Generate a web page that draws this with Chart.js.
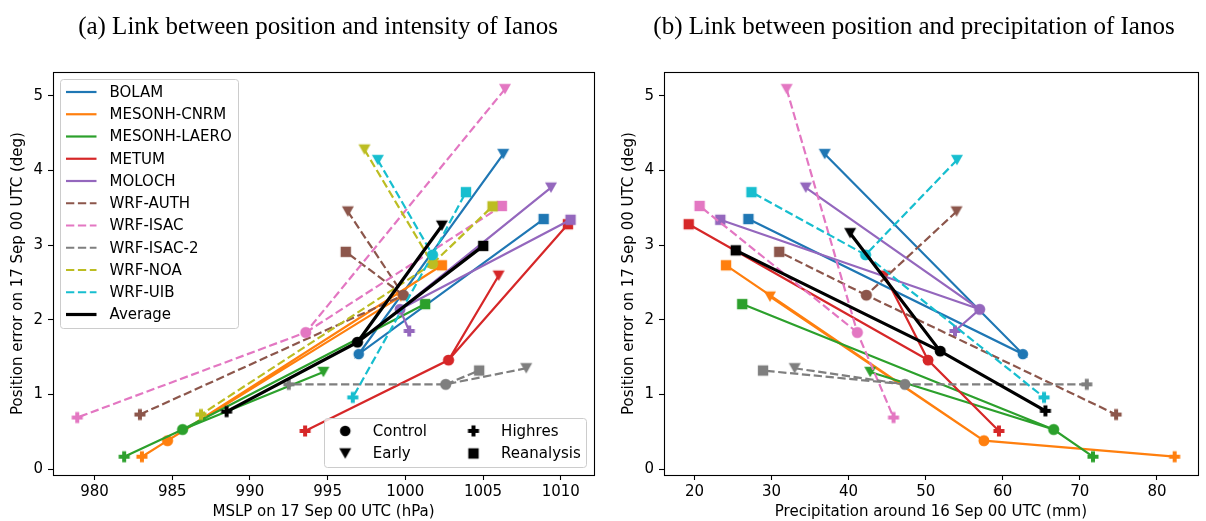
<!DOCTYPE html>
<html>
<head>
<meta charset="utf-8">
<script src="https://cdn.jsdelivr.net/npm/chart.js@4.4.0/dist/chart.umd.min.js"></script>
<style>
  body { margin: 0; background: #fff; width: 1206px; height: 521px; overflow: hidden; position: relative; }
  canvas { position: absolute; top: 0; }
  .title { position: absolute; top: 25px; font-family: "Liberation Serif", serif; font-size: 25px; line-height: 25px;
           white-space: nowrap; transform: translate(-50%, -50%); color: #000; }
</style>
</head>
<body>
<canvas id="chartA" width="603" height="521" style="left:0px"></canvas>
<canvas id="chartB" width="595" height="521" style="left:611px"></canvas>
<div class="title" style="left:318px">(a) Link between position and intensity of Ianos</div>
<div class="title" style="left:914px">(b) Link between position and precipitation of Ianos</div>
<script>
const models = ['BOLAM', 'MESONH-CNRM', 'MESONH-LAERO', 'METUM', 'MOLOCH',
                'WRF-AUTH', 'WRF-ISAC', 'WRF-ISAC-2', 'WRF-NOA', 'WRF-UIB'];
const modelColors = ['#1f77b4', '#ff7f0e', '#2ca02c', '#d62728', '#9467bd',
                     '#8c564b', '#e377c2', '#7f7f7f', '#bcbd22', '#17becf'];
const modelDashed = [false, false, false, false, false, true, true, true, true, true];
const experiments = ['Control', 'Early', 'Highres', 'Reanalysis'];

// each row: Control, Early, Highres, Reanalysis
const posError = [
  [1.54, 4.22, null, 3.35],
  [0.38, 2.31, 0.165, 2.73],
  [0.53, 1.30, 0.165, 2.21],
  [1.46, 2.59, 0.51, 3.28],
  [2.14, 3.77, 1.85, 3.34],
  [2.33, 3.45, 0.73, 2.91],
  [1.83, 5.09, 0.69, 3.525],
  [1.135, 1.35, 1.135, 1.32],
  [2.75, 4.28, 0.73, 3.52],
  [2.87, 4.14, 0.96, 3.71]
];
const mslp = [
  [997.0, 1006.3, null, 1008.9],
  [984.7, 999.7, 983.05, 1002.35],
  [985.67, 994.73, 981.91, 1001.27],
  [1002.78, 1006.0, 993.55, 1010.46],
  [999.66, 1009.37, 1000.25, 1010.63],
  [999.88, 996.3, 982.92, 996.17],
  [993.59, 1006.41, 978.89, 1006.21],
  [1002.6, 1007.78, 992.5, 1004.75],
  [1001.75, 997.37, 986.85, 1005.61],
  [1001.75, 998.23, 996.62, 1003.9]
];
const precip = [
  [62.6, 36.9, null, 27.0],
  [57.55, 29.8, 82.3, 24.1],
  [66.6, 42.8, 71.7, 26.2],
  [50.3, 44.7, 59.5, 19.26],
  [57.0, 34.44, 53.8, 23.35],
  [42.3, 54.0, 74.7, 31.0],
  [41.13, 31.96, 45.83, 20.67],
  [47.3, 33.0, 70.9, 28.9],
  [null, null, null, null],
  [42.2, 54.05, 65.35, 27.4]
];
// the average differs between panels (no WRF-NOA precipitation)
const avgPosA = [1.70, 3.26, 0.77, 2.99];
const avgMslp = [996.92, 1002.35, 988.5, 1005.01];
const avgPosB = [1.58, 3.16, 0.78, 2.93];
const avgPrecip = [51.88, 40.2, 65.53, 25.36];

const yTicks = [0, 1, 2, 3, 4, 5];
const mslpTicks = [980, 985, 990, 995, 1000, 1005, 1010];
const precipTicks = [20, 30, 40, 50, 60, 70, 80];

const FONT = '"DejaVu Sans", sans-serif';
Chart.defaults.color = '#000';
Chart.defaults.font.family = FONT;
Chart.defaults.font.size = 15;

// matplotlib-like markers: o, v, P, s
function markerImg(kind, color) {
  const c = document.createElement('canvas');
  c.width = c.height = 14;
  const g = c.getContext('2d');
  g.fillStyle = color;
  g.translate(7, 7);
  g.beginPath();
  if (kind === 0) {
    g.arc(0, 0, 5.3, 0, Math.PI * 2);
  } else if (kind === 1) {
    g.moveTo(0, 5.3); g.lineTo(-6, -5.3); g.lineTo(6, -5.3); g.closePath();
  } else if (kind === 2) {
    const a = 5.5, b = 2;
    g.moveTo(-b, -a); g.lineTo(b, -a); g.lineTo(b, -b); g.lineTo(a, -b); g.lineTo(a, b); g.lineTo(b, b);
    g.lineTo(b, a); g.lineTo(-b, a); g.lineTo(-b, b); g.lineTo(-a, b); g.lineTo(-a, -b); g.lineTo(-b, -b);
    g.closePath();
  } else {
    g.rect(-5.2, -5.2, 10.4, 10.4);
  }
  g.fill();
  return c;
}

// lines go from Control to every other experiment; a gap keeps dashes from retracing
function starPoints(xs, ys) {
  const others = [1, 2, 3].filter(k => xs[k] != null && ys[k] != null);
  const pt = k => ({ x: xs[k], y: ys[k], m: k });
  const pts = [];
  if (xs[0] == null) return pts;
  others.forEach((k, i) => {
    if (i === 0) { pts.push(pt(k)); pts.push(pt(0)); }
    else if (i === 1) { pts.push(pt(k)); }
    else { pts.push({ x: xs[0], y: null, m: 0 }); pts.push(pt(0)); pts.push(pt(k)); }
  });
  return pts;
}

function makeDataset(label, color, dashed, width, xs, ys, order) {
  const pts = starPoints(xs, ys);
  const imgs = [0, 1, 2, 3].map(k => markerImg(k, color));
  return {
    label: label,
    data: pts,
    showLine: true,
    spanGaps: false,
    borderColor: color,
    backgroundColor: color,
    borderWidth: width,
    borderDash: dashed ? [8.3, 3.6] : [],
    pointStyle: pts.map(p => imgs[p.m]),
    pointRadius: 5,
    pointHoverRadius: 5,
    tension: 0,
    order: order
  };
}

function buildDatasets(xsAll, avgX, avgY) {
  const ds = [];
  models.forEach((m, i) => {
    const d = makeDataset(m, modelColors[i], modelDashed[i], 2.2, xsAll[i], posError[i], models.length + 1 - i);
    if (d.data.length) ds.push(d);
  });
  ds.push(makeDataset('Average', '#000', false, 3.2, avgX, avgY, 0));
  return ds;
}

const framePlugin = {
  id: 'frame',
  afterDatasetsDraw(chart) {
    const { ctx, chartArea: a } = chart;
    ctx.save();
    ctx.strokeStyle = '#000';
    ctx.lineWidth = 1.1;
    ctx.strokeRect(Math.round(a.left) + 0.5, Math.round(a.top) + 0.5,
                   Math.round(a.right - a.left), Math.round(a.bottom - a.top));
    ctx.restore();
  }
};

function legendBox(ctx, x, y, w, h) {
  ctx.save();
  ctx.beginPath();
  ctx.roundRect(x, y, w, h, 3);
  ctx.fillStyle = 'rgba(255,255,255,0.8)';
  ctx.fill();
  ctx.strokeStyle = '#cccccc';
  ctx.lineWidth = 1;
  ctx.stroke();
  ctx.restore();
}

const legendPlugin = {
  id: 'insideLegends',
  afterDraw(chart, args, opts) {
    if (!opts.show) return;
    const { ctx, chartArea: a } = chart;
    ctx.save();
    ctx.font = '15px ' + FONT;
    ctx.textBaseline = 'middle';
    ctx.fillStyle = '#000';
    // series legend, upper left
    const bx = a.left + 7.5, by = a.top + 7.5;
    legendBox(ctx, bx, by, 178, 249);
    const names = models.concat(['Average']);
    names.forEach((n, i) => {
      const y = by + 12.5 + i * 22.25;
      ctx.save();
      ctx.beginPath();
      ctx.strokeStyle = i < models.length ? modelColors[i] : '#000';
      ctx.lineWidth = i < models.length ? 2.2 : 3.2;
      ctx.setLineDash(i < models.length && modelDashed[i] ? [8.3, 3.6] : []);
      ctx.moveTo(bx + 5.5, y); ctx.lineTo(bx + 36, y);
      ctx.stroke();
      ctx.restore();
      ctx.fillText(n, bx + 49, y + 1);
    });
    // experiment legend, lower right
    const w = 262, h = 49;
    const lx = a.right - 7.5 - w, ly = a.bottom - 7.5 - h;
    legendBox(ctx, lx, ly, w, h);
    experiments.forEach((e, k) => {
      const col = k === 0 || k === 1 ? 0 : 1;
      const row = k === 0 || k === 2 ? 0 : 1;
      const mx = lx + 20.7 + col * 128.3, my = ly + 12.4 + row * 22.6;
      const img = markerImg(k, '#000');
      ctx.drawImage(img, mx - 7, my - 7);
      ctx.fillText(e, mx + 27.6, my + 1);
    });
    ctx.restore();
  }
};

function makeChart(id, datasets, xTitle, xMin, xMax, xTicks, yTitlePad, padRight, withLegend) {
  return new Chart(document.getElementById(id), {
    type: 'scatter',
    data: { datasets: datasets },
    options: {
      responsive: false,
      animation: false,
      events: [],
      layout: { padding: { left: 0, right: padRight, top: 72, bottom: 0 } },
      plugins: {
        legend: { display: false },
        tooltip: { enabled: false },
        insideLegends: { show: withLegend }
      },
      scales: {
        x: {
          type: 'linear',
          min: xMin, max: xMax,
          afterBuildTicks: s => { s.ticks = xTicks.map(v => ({ value: v })); },
          afterFit: s => { s.height = 46; },
          grid: { drawOnChartArea: false, drawTicks: true, tickLength: 5, tickColor: '#000', tickWidth: 1.1 },
          border: { display: false },
          ticks: { padding: 3, maxRotation: 0, autoSkip: false, color: '#000', callback: v => String(v) },
          title: { display: true, text: xTitle, color: '#000', padding: { top: 0, bottom: 0 } }
        },
        y: {
          type: 'linear',
          min: -0.08, max: 5.32,
          afterBuildTicks: s => { s.ticks = yTicks.map(v => ({ value: v })); },
          afterFit: s => { s.width = 53; },
          grid: { drawOnChartArea: false, drawTicks: true, tickLength: 5, tickColor: '#000', tickWidth: 1.1 },
          border: { display: false },
          ticks: { padding: 5, color: '#000', callback: v => String(v) },
          title: { display: true, text: 'Position error on 17 Sep 00 UTC (deg)', color: '#000',
                   padding: { top: yTitlePad, bottom: 0 } }
        }
      }
    },
    plugins: [framePlugin, legendPlugin]
  });
}

makeChart('chartA', buildDatasets(mslp, avgMslp, avgPosA), 'MSLP on 17 Sep 00 UTC (hPa)',
          977.33, 1012.14, mslpTicks, 9.3, 9, true);
makeChart('chartB', buildDatasets(precip, avgPrecip, avgPosB), 'Precipitation around 16 Sep 00 UTC (mm)',
          16.05, 85.3, precipTicks, 9.3, 1, false);
</script>
</body>
</html>
